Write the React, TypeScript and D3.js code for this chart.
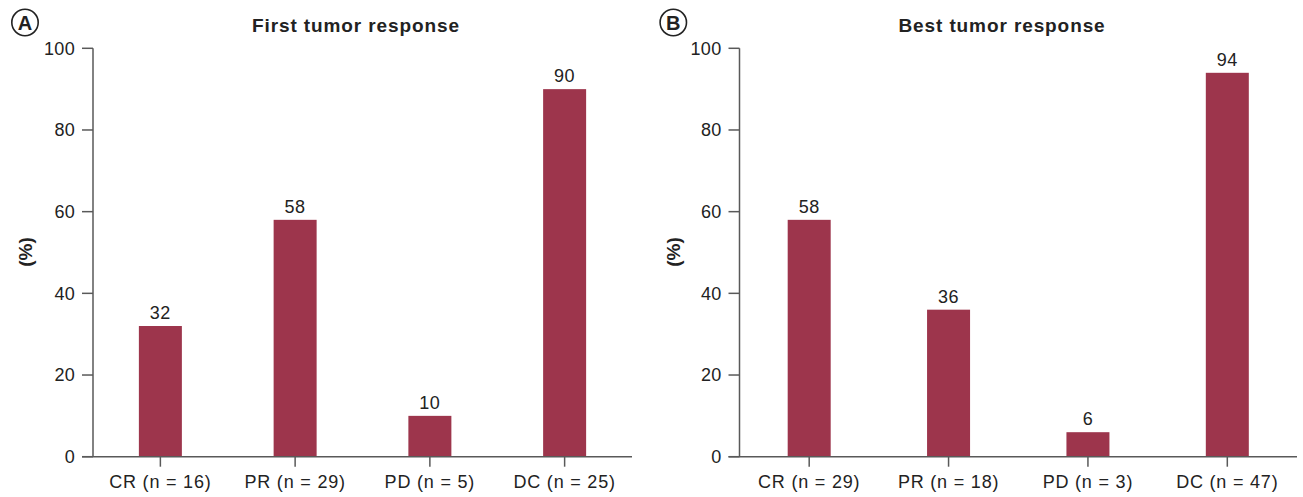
import React from "react";
import * as d3 from "d3";

const categoriesA = ["CR (n = 16)", "PR (n = 29)", "PD (n = 5)", "DC (n = 25)"];
const valuesA = [32, 58, 10, 90];
const categoriesB = ["CR (n = 29)", "PR (n = 18)", "PD (n = 3)", "DC (n = 47)"];
const valuesB = [58, 36, 6, 94];
const yTicks = [0, 20, 40, 60, 80, 100];
const titles = ["First tumor response", "Best tumor response"];
const panelLetters = ["A", "B"];

const BAR = "#9d354c";
const AXIS = "#595959";
const TEXT = "#222";
const FONT = "'Liberation Sans', Arial, Helvetica, sans-serif";

type PanelProps = {
  cats: string[];
  vals: number[];
  x0: number;
  x1: number;
  title: string;
  titleX: number;
  letter: string;
  letterX: number;
  labelX: number;
};

function Panel({ cats, vals, x0, x1, title, titleX, letter, letterX, labelX }: PanelProps) {
  const y = d3.scaleLinear().domain([0, 100]).range([456.7, 48.3]);
  const x = d3.scaleBand<string>().domain(cats).range([x0, x1]).paddingInner(0.69).paddingOuter(0.345);
  const bw = 43;
  return (
    <g>
      <circle cx={letterX} cy={22.5} r={13.2} fill="none" stroke={TEXT} strokeWidth={1.6} />
      <text x={letterX} y={29.5} textAnchor="middle" fontSize={20} fontWeight="bold" fill={TEXT} fontFamily={FONT}>
        {letter}
      </text>
      <text x={titleX} y={31.7} textAnchor="middle" fontSize={19} fontWeight="bold" fill={TEXT} fontFamily={FONT} letterSpacing={0.9}>
        {title}
      </text>
      <text
        transform={`translate(${labelX},252) rotate(-90)`}
        textAnchor="middle"
        dy="0.35em"
        fontSize={19}
        fontWeight="bold"
        fill={TEXT}
        fontFamily={FONT}
      >
        (%)
      </text>
      {cats.map((c, i) => {
        const cx = (x(c) as number) + x.bandwidth() / 2;
        return (
          <g key={c}>
            <rect x={cx - bw / 2} y={y(vals[i])} width={bw} height={y(0) - y(vals[i])} fill={BAR} />
            <text x={cx} y={y(vals[i]) - 7} textAnchor="middle" fontSize={18} fill={TEXT} fontFamily={FONT} letterSpacing={0.5}>
              {vals[i]}
            </text>
            <line x1={cx} x2={cx} y1={y(0)} y2={y(0) + 10} stroke={AXIS} strokeWidth={1.5} />
            <text x={cx} y={488} textAnchor="middle" fontSize={18} fill={TEXT} fontFamily={FONT} letterSpacing={0.8}>
              {c}
            </text>
          </g>
        );
      })}
      <line x1={x0} x2={x0} y1={y(100)} y2={y(0)} stroke={AXIS} strokeWidth={1.5} />
      <line x1={x0 - 11} x2={x1} y1={y(0)} y2={y(0)} stroke={AXIS} strokeWidth={1.5} />
      {yTicks.map((t) => (
        <g key={t}>
          <line x1={x0 - 11} x2={x0} y1={y(t)} y2={y(t)} stroke={AXIS} strokeWidth={1.5} />
          <text x={x0 - 18} y={y(t)} dy="0.35em" textAnchor="end" fontSize={18} fill={TEXT} fontFamily={FONT} letterSpacing={0.3}>
            {t}
          </text>
        </g>
      ))}
    </g>
  );
}

export default function App() {
  return (
    <div style={{ position: "absolute", left: 0, top: 0 }}>
      <svg width={1303} height={497} style={{ display: "block", background: "#fff" }}>
        <Panel cats={categoriesA} vals={valuesA} x0={93} x1={632} title={titles[0]} titleX={356} letter={panelLetters[0]} letterX={25} labelX={25} />
        <Panel cats={categoriesB} vals={valuesB} x0={739.5} x1={1297} title={titles[1]} titleX={1002} letter={panelLetters[1]} letterX={673.3} labelX={673} />
      </svg>
    </div>
  );
}
